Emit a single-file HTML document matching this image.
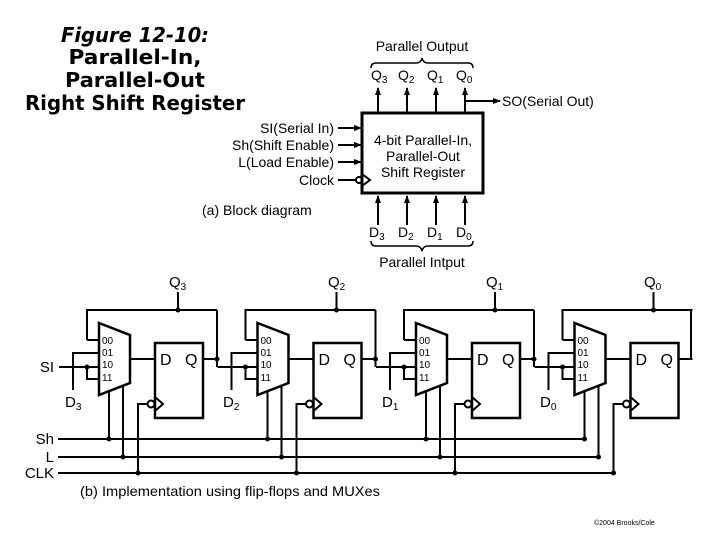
<!DOCTYPE html>
<html><head><meta charset="utf-8"><style>
html,body{margin:0;padding:0;background:#fff}
svg{display:block}
text{font-family:"Liberation Sans",Arial,sans-serif;fill:#000}
.t{font-family:"DejaVu Sans",sans-serif;font-weight:bold;font-size:20px}
</style></head><body>
<svg width="720" height="540" viewBox="0 0 720 540" xmlns="http://www.w3.org/2000/svg">
<defs>
<marker id="ar" markerWidth="8" markerHeight="8" refX="7" refY="4" orient="auto" markerUnits="userSpaceOnUse"><path d="M0,1 L8,4 L0,7 z" fill="#000"/></marker>
<g id="stage" fill="none" stroke="#000" stroke-width="2">
<line x1="178" y1="292" x2="178" y2="310"/>
<polyline points="87,340 87,310 217,310"/>
<line x1="87" y1="340" x2="99" y2="340"/>
<polygon points="99,323 130,335 130,383 99,395" stroke-width="2.5"/>
<line x1="130" y1="359" x2="155" y2="359"/>
<rect x="155" y="343" width="48" height="75" stroke-width="2.5"/>
<line x1="203" y1="359" x2="217" y2="359"/>
<polyline points="155,397 163,404 155,411"/>
<circle cx="151" cy="404" r="3.5"/>
<polyline points="138,473 138,404 147.5,404"/>
<line x1="109" y1="390" x2="109" y2="439"/>
<line x1="123" y1="386" x2="123" y2="457"/>
<polyline points="99,353 73,353 73,390"/>
<line x1="59" y1="367" x2="99" y2="367"/>
<polyline points="87,367 87,379 99,379"/>
<g fill="#000" stroke="none">
<circle cx="178" cy="310" r="2.5"/><circle cx="138" cy="473" r="2.5"/>
<circle cx="109" cy="439" r="2.5"/><circle cx="123" cy="457" r="2.5"/>
<circle cx="87" cy="367" r="2.5"/>
</g>
<g stroke="none" fill="#000" font-family="Liberation Sans, sans-serif" font-size="10">
<text x="102" y="344">00</text><text x="102" y="356">01</text><text x="102" y="368">10</text><text x="102" y="381">11</text>
</g>
<g stroke="none" fill="#000" font-family="Liberation Sans, sans-serif" font-size="16">
<text x="160" y="365">D</text><text x="185" y="365">Q</text>
</g>
</g>
</defs>

<text class="t" x="135" y="42" text-anchor="middle" font-style="italic" textLength="148" lengthAdjust="spacingAndGlyphs">Figure 12-10:</text>
<text class="t" x="135" y="64" text-anchor="middle" textLength="133" lengthAdjust="spacingAndGlyphs">Parallel-In,</text>
<text class="t" x="135" y="87" text-anchor="middle" textLength="140" lengthAdjust="spacingAndGlyphs">Parallel-Out</text>
<text class="t" x="135" y="110" text-anchor="middle" textLength="220" lengthAdjust="spacingAndGlyphs">Right Shift Register</text>

<!-- block diagram -->
<g fill="none" stroke="#000" stroke-width="2">
<rect x="362" y="113" width="121" height="80" stroke-width="3"/>
<line x1="378" y1="113" x2="378" y2="88" marker-end="url(#ar)"/>
<line x1="407" y1="113" x2="407" y2="88" marker-end="url(#ar)"/>
<line x1="436" y1="113" x2="436" y2="88" marker-end="url(#ar)"/>
<line x1="465" y1="113" x2="465" y2="88" marker-end="url(#ar)"/>
<polyline points="465,101 500,101" marker-end="url(#ar)"/>
<line x1="378" y1="225" x2="378" y2="196" marker-end="url(#ar)"/>
<line x1="407" y1="225" x2="407" y2="196" marker-end="url(#ar)"/>
<line x1="436" y1="225" x2="436" y2="196" marker-end="url(#ar)"/>
<line x1="465" y1="225" x2="465" y2="196" marker-end="url(#ar)"/>
<line x1="338" y1="128" x2="361" y2="128" marker-end="url(#ar)"/>
<line x1="338" y1="145" x2="361" y2="145" marker-end="url(#ar)"/>
<line x1="338" y1="162" x2="361" y2="162" marker-end="url(#ar)"/>
<line x1="338" y1="180" x2="356" y2="180"/>
<circle cx="359" cy="180" r="3"/>
<polyline points="362,174 370,180 362,186"/>
<path d="M371,68 q0,-5 5,-5 h40 q5,0 6,-5 q1,5 6,5 h40 q5,0 5,5" stroke-width="1.5"/>
<path d="M371,241 q0,5 5,5 h40 q5,0 6,5 q1,-5 6,-5 h40 q5,0 5,-5" stroke-width="1.5"/>
</g>
<g font-size="14">
<text x="422" y="51" text-anchor="middle">Parallel Output</text>
<text x="371" y="80">Q<tspan font-size="10" dy="3">3</tspan></text>
<text x="398" y="80">Q<tspan font-size="10" dy="3">2</tspan></text>
<text x="427" y="80">Q<tspan font-size="10" dy="3">1</tspan></text>
<text x="456" y="80">Q<tspan font-size="10" dy="3">0</tspan></text>
<text x="502" y="106">SO(Serial Out)</text>
<text x="334" y="133" text-anchor="end">SI(Serial In)</text>
<text x="334" y="150" text-anchor="end">Sh(Shift Enable)</text>
<text x="334" y="167" text-anchor="end">L(Load Enable)</text>
<text x="334" y="185" text-anchor="end">Clock</text>
<text x="423" y="145" text-anchor="middle">4-bit Parallel-In,</text>
<text x="423" y="161" text-anchor="middle">Parallel-Out</text>
<text x="423" y="177" text-anchor="middle">Shift Register</text>
<text x="202" y="215">(a) Block diagram</text>
<text x="369" y="237">D<tspan font-size="10" dy="3">3</tspan></text>
<text x="398" y="237">D<tspan font-size="10" dy="3">2</tspan></text>
<text x="427" y="237">D<tspan font-size="10" dy="3">1</tspan></text>
<text x="456" y="237">D<tspan font-size="10" dy="3">0</tspan></text>
<text x="422" y="267" text-anchor="middle">Parallel Intput</text>
</g>

<!-- implementation -->
<use href="#stage"/>
<use href="#stage" transform="translate(158.5,0)"/>
<use href="#stage" transform="translate(317,0)"/>
<use href="#stage" transform="translate(475.5,0)"/>
<g fill="none" stroke="#000" stroke-width="2">
<line x1="217" y1="310" x2="217" y2="367"/>
<line x1="375.5" y1="310" x2="375.5" y2="367"/>
<line x1="534" y1="310" x2="534" y2="367"/>
<polyline points="678,359 691,359 691,310 692,310"/>
<line x1="58" y1="439" x2="585" y2="439"/>
<line x1="58" y1="457" x2="598" y2="457"/>
<line x1="58" y1="473" x2="613" y2="473"/>
</g>
<g fill="#000"><circle cx="217" cy="359" r="2.5"/><circle cx="375.5" cy="359" r="2.5"/><circle cx="534" cy="359" r="2.5"/></g>
<g font-size="15">
<text x="169" y="287">Q<tspan font-size="10" dy="3">3</tspan></text>
<text x="328" y="287">Q<tspan font-size="10" dy="3">2</tspan></text>
<text x="486" y="287">Q<tspan font-size="10" dy="3">1</tspan></text>
<text x="644" y="287">Q<tspan font-size="10" dy="3">0</tspan></text>
<text x="65" y="407">D<tspan font-size="10" dy="3">3</tspan></text>
<text x="223" y="407">D<tspan font-size="10" dy="3">2</tspan></text>
<text x="382" y="407">D<tspan font-size="10" dy="3">1</tspan></text>
<text x="540" y="407">D<tspan font-size="10" dy="3">0</tspan></text>
<text x="54" y="372" text-anchor="end">SI</text>
<text x="54" y="444" text-anchor="end">Sh</text>
<text x="54" y="462" text-anchor="end">L</text>
<text x="54" y="478" text-anchor="end">CLK</text>
<text x="80" y="496" font-size="14" textLength="300" lengthAdjust="spacingAndGlyphs">(b) Implementation using flip-flops and MUXes</text>
</g>
<text x="594" y="525" font-size="7">©2004 Brooks/Cole</text>
</svg>
</body></html>
